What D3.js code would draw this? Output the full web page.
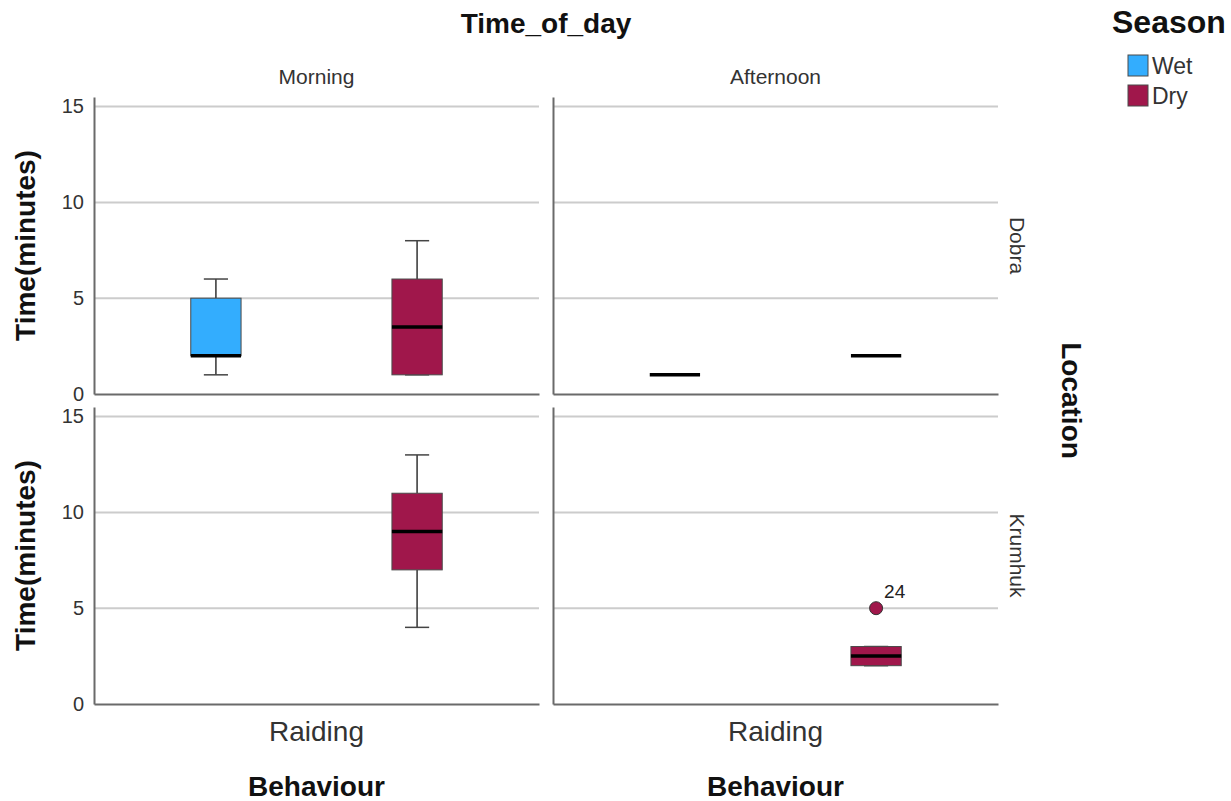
<!DOCTYPE html>
<html><head><meta charset="utf-8">
<script src="https://cdn.jsdelivr.net/npm/d3@7"></script>
<style>body{margin:0;background:#fff} svg{display:block;font-family:"Liberation Sans",Arial,sans-serif}</style>
</head><body><svg id="c" width="1231" height="801"></svg>
<script>
// ---- data ----
const columns = ["Morning", "Afternoon"];
const rows = ["Dobra", "Krumhuk"];
const seasons = ["Wet", "Dry"];
const categories = ["Raiding"];
const yTicks = [0, 5, 10, 15];
const seasonColors = ["#33adfe", "#a0174b"];
// five-number summaries [min, q1, median, q3, max] for each season (Wet, Dry)
const dobraMorning = [[1, 2, 2, 5, 6], [1, 1, 3.5, 6, 8]];
const dobraAfternoon = [[1, 1, 1, 1, 1], [2, 2, 2, 2, 2]];
const krumhukMorning = [null, [4, 7, 9, 11, 13]];
const krumhukAfternoon = [null, [2, 2, 2.5, 3, 3]];
// outliers: Krumhuk / Afternoon / Dry
const outlierValues = [5];
const outlierLabels = ["24"];

const panelStats = [
  [dobraMorning, dobraAfternoon],
  [krumhukMorning, krumhukAfternoon]
];

// ---- layout ----
const svg = d3.select("#c");
const colBand = d3.scaleBand().domain(columns).range([94, 998]).paddingInner(0.0305);
const rowBand = d3.scaleBand().domain(rows).range([97, 704]).paddingInner(0.042);
const W = colBand.bandwidth();
const xCat = d3.scaleBand().domain(categories).range([0, W]);
const xSeason = d3.scalePoint().domain(seasons).range([0, W]).padding(0.606);
const boxW = xSeason.step() * 0.25;
const capW = boxW * 0.48;
const color = d3.scaleOrdinal().domain(seasons).range(seasonColors);

const gridColor = "#cccccc", axisColor = "#6a6a6a", textColor = "#333";

rows.forEach((r, ri) => {
  const y0 = rowBand(r), y1 = y0 + rowBand.bandwidth();
  const y = d3.scaleLinear().domain([0, 15.5]).range([y1, y0]);
  columns.forEach((c, ci) => {
    const g = svg.append("g").attr("transform", `translate(${colBand(c)},0)`);
    // gridlines
    g.selectAll("line.grid").data(yTicks.filter(t => t > 0)).join("line")
      .attr("x1", 0).attr("x2", W)
      .attr("y1", d => y(d)).attr("y2", d => y(d))
      .attr("stroke", gridColor).attr("stroke-width", 2);
    // y axis
    const ya = g.append("g").call(
      d3.axisLeft(y).tickValues(yTicks).tickSize(0).tickSizeOuter(0).tickPadding(10)
        .tickFormat(ci === 0 ? d3.format("d") : () => "")
    );
    ya.select(".domain").attr("stroke", axisColor).attr("stroke-width", 2);
    ya.selectAll("text").attr("font-size", 20).attr("fill", textColor)
      .attr("font-family", "Liberation Sans, Arial, sans-serif");
    // x axis
    const xa = g.append("g").attr("transform", `translate(0,${y1})`).call(
      d3.axisBottom(xCat).tickSize(0).tickSizeOuter(0).tickPadding(17)
        .tickFormat(ri === rows.length - 1 ? (d => d) : () => "")
    );
    xa.select(".domain").attr("stroke", axisColor).attr("stroke-width", 2);
    xa.selectAll("text").attr("font-size", 28).attr("fill", textColor)
      .attr("font-family", "Liberation Sans, Arial, sans-serif");

    // boxes
    const stats = panelStats[ri][ci];
    seasons.forEach((s, si) => {
      const st = stats[si];
      if (!st) return;
      const [mn, q1, md, q3, mx] = st;
      const cx = xCat("Raiding") + xSeason(s);
      const bg = g.append("g");
      // whiskers
      bg.append("line").attr("x1", cx).attr("x2", cx).attr("y1", y(q3)).attr("y2", y(mx))
        .attr("stroke", "#333").attr("stroke-width", 1.5);
      bg.append("line").attr("x1", cx).attr("x2", cx).attr("y1", y(q1)).attr("y2", y(mn))
        .attr("stroke", "#333").attr("stroke-width", 1.5);
      [mn, mx].forEach(v => {
        if (mn === mx) return;
        bg.append("line").attr("x1", cx - capW / 2).attr("x2", cx + capW / 2)
          .attr("y1", y(v)).attr("y2", y(v))
          .attr("stroke", "#444").attr("stroke-width", 1.5);
      });
      if (q3 > q1) {
        bg.append("rect").attr("x", cx - boxW / 2).attr("width", boxW)
          .attr("y", y(q3)).attr("height", y(q1) - y(q3))
          .attr("fill", color(s)).attr("stroke", "#4a4a4a").attr("stroke-width", 1);
      }
      bg.append("line").attr("x1", cx - boxW / 2).attr("x2", cx + boxW / 2)
        .attr("y1", y(md)).attr("y2", y(md))
        .attr("stroke", "#000").attr("stroke-width", 3.5);
    });

    if (r === "Krumhuk" && c === "Afternoon") {
      const cx = xCat("Raiding") + xSeason("Dry");
      g.selectAll("circle.out").data(outlierValues).join("circle")
        .attr("cx", cx).attr("cy", d => y(d)).attr("r", 6.5)
        .attr("fill", color("Dry")).attr("stroke", "#333").attr("stroke-width", 1);
      g.selectAll("text.out").data(outlierLabels).join("text")
        .attr("x", cx + 8).attr("y", (d, i) => y(outlierValues[i]) - 10)
        .attr("font-size", 19).attr("fill", "#222").text(d => d);
    }
  });
  // row strip label
  const cy = (y0 + y1) / 2;
  svg.append("text").attr("transform", `translate(1010,${cy}) rotate(90)`)
    .attr("text-anchor", "middle").attr("font-size", 21).attr("fill", textColor).text(r);
  // y title
  svg.append("text").attr("transform", `translate(35,${cy}) rotate(-90)`)
    .attr("text-anchor", "middle").attr("font-size", 28).attr("font-weight", "bold")
    .attr("fill", "#111").text("Time(minutes)");
});

// column strip labels and behaviour titles
columns.forEach(c => {
  const cx = colBand(c) + W / 2;
  svg.append("text").attr("x", cx).attr("y", 84).attr("text-anchor", "middle")
    .attr("font-size", 21).attr("fill", textColor).text(c);
  svg.append("text").attr("x", cx).attr("y", 796).attr("text-anchor", "middle")
    .attr("font-size", 28).attr("font-weight", "bold").attr("fill", "#111").text("Behaviour");
});

svg.append("text").attr("x", 546).attr("y", 33).attr("text-anchor", "middle")
  .attr("font-size", 28).attr("font-weight", "bold").attr("fill", "#111").text("Time_of_day");
svg.append("text").attr("transform", `translate(1062,${(97 + 704) / 2}) rotate(90)`)
  .attr("text-anchor", "middle").attr("font-size", 28).attr("font-weight", "bold")
  .attr("fill", "#111").text("Location");

// legend
svg.append("text").attr("x", 1112).attr("y", 33).attr("font-size", 32)
  .attr("font-weight", "bold").attr("fill", "#111").text("Season");
const lg = svg.append("g").selectAll("g").data(seasons).join("g")
  .attr("transform", (d, i) => `translate(1128,${55 + i * 30})`);
lg.append("rect").attr("width", 20).attr("height", 21)
  .attr("fill", d => color(d)).attr("stroke", "#4a4a4a").attr("stroke-width", 1);
lg.append("text").attr("x", 24).attr("y", 19).attr("font-size", 23)
  .attr("fill", textColor).text(d => d);
</script></body></html>
